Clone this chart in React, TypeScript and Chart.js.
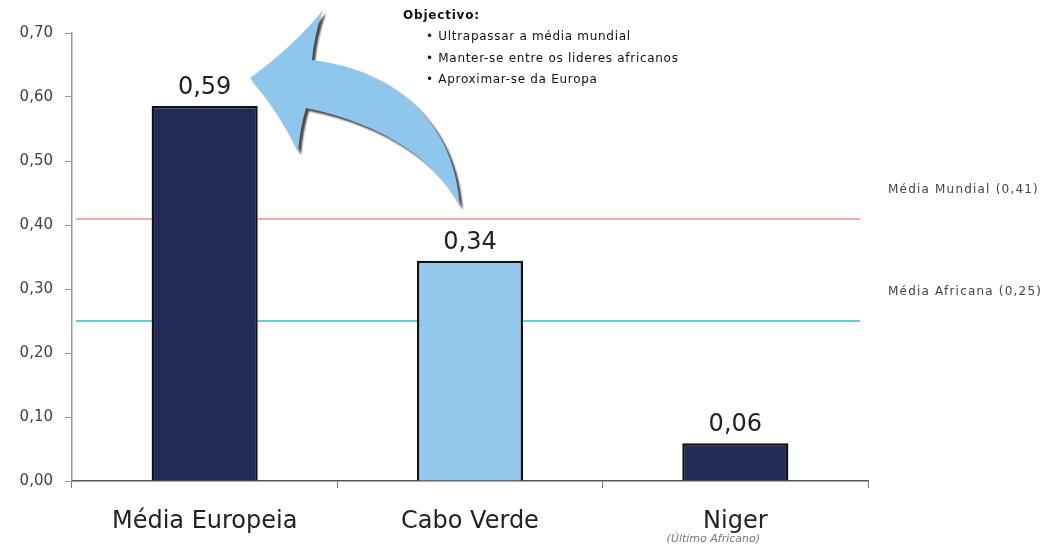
import React, { useEffect, useRef } from "react";
import { Chart, registerables } from "chart.js";

Chart.register(...registerables);

const categories = ["Média Europeia", "Cabo Verde", "Niger"];
const values = [0.586, 0.344, 0.059];
const barColors = ["#232a57", "#93c7ec", "#232a57"];
const subtitles = ["", "", "(Último Africano)"];
const referenceValues = [0.41, 0.25];
const referenceLabels = ["Média Mundial (0,41)", "Média Africana (0,25)"];
const referenceColors = ["#f4aca4", "#66cdd7"];
const objectiveTitle = "Objectivo:";
const objectiveItems = [
  "Ultrapassar a média mundial",
  "Manter-se entre os lideres africanos",
  "Aproximar-se da Europa",
];
const fmt = (v: number) => v.toFixed(2).replace(".", ",");

const overlay = {
  id: "overlay",
  beforeDatasetsDraw(chart: any) {
    const ctx = chart.ctx;
    const y = chart.scales.y;
    const area = chart.chartArea;
    ctx.save();
    referenceValues.forEach((v, i) => {
      const py = Math.round(y.getPixelForValue(v));
      ctx.strokeStyle = referenceColors[i];
      ctx.lineWidth = 2;
      ctx.beginPath();
      ctx.moveTo(area.left + 4, py);
      ctx.lineTo(area.right - 8, py);
      ctx.stroke();
      ctx.fillStyle = "#444";
      ctx.font = "12px 'DejaVu Sans'";
      (ctx as any).letterSpacing = "1.2px";
      ctx.textAlign = "left";
      ctx.textBaseline = "middle";
      ctx.fillText(referenceLabels[i], area.right + 20, py - 29);
      (ctx as any).letterSpacing = "0px";
    });
    ctx.restore();
  },
  afterDatasetsDraw(chart: any) {
    const ctx = chart.ctx;
    const meta = chart.getDatasetMeta(0);
    ctx.save();
    // value labels
    ctx.fillStyle = "#222";
    ctx.font = "24px 'DejaVu Sans'";
    ctx.textAlign = "center";
    ctx.textBaseline = "alphabetic";
    meta.data.forEach((bar: any, i: number) => {
      ctx.fillText(fmt(values[i]), bar.x, bar.y - 12);
    });
    // subtitles under categories
    const x = chart.scales.x;
    ctx.font = "italic 11px 'DejaVu Sans'";
    ctx.fillStyle = "#777";
    subtitles.forEach((s, i) => {
      if (!s) return;
      ctx.fillText(s, x.getPixelForValue(i) - 22, 542);
    });
    // arrow
    ctx.shadowColor = "rgba(30,30,30,0.8)";
    ctx.shadowBlur = 2;
    ctx.shadowOffsetX = 3;
    ctx.shadowOffsetY = 3;
    ctx.fillStyle = "#8fc6ec";
    ctx.beginPath();
    ctx.moveTo(250, 78);
    ctx.quadraticCurveTo(295, 45, 323, 10);
    ctx.quadraticCurveTo(314, 35, 312, 60);
    ctx.bezierCurveTo(398, 70, 455, 125, 460, 207);
    ctx.bezierCurveTo(438, 162, 385, 124, 306, 108);
    ctx.quadraticCurveTo(300, 128, 298, 152);
    ctx.quadraticCurveTo(278, 110, 250, 78);
    ctx.closePath();
    ctx.fill();
    ctx.shadowColor = "transparent";
    // objective text
    ctx.textAlign = "left";
    ctx.textBaseline = "middle";
    ctx.fillStyle = "#111";
    ctx.font = "bold 12px 'DejaVu Sans'";
    (ctx as any).letterSpacing = "0.8px";
    ctx.fillText(objectiveTitle, 403, 16);
    ctx.font = "12px 'DejaVu Sans'";
    (ctx as any).letterSpacing = "0.7px";
    objectiveItems.forEach((t, i) => {
      ctx.fillText("• " + t, 426, 37 + i * 21.5);
    });
    (ctx as any).letterSpacing = "0px";
    ctx.restore();
  },
};

export default function App() {
  const ref = useRef<HTMLCanvasElement>(null);
  useEffect(() => {
    if (!ref.current) return;
    const chart = new Chart(ref.current, {
      type: "bar",
      data: {
        labels: categories,
        datasets: [
          {
            data: values,
            backgroundColor: barColors,
            borderColor: "#111",
            borderWidth: 2.5,
            borderSkipped: "bottom",
            barPercentage: 0.4,
            categoryPercentage: 1,
          },
        ],
      },
      options: {
        responsive: false,
        animation: false,
        layout: { padding: { left: 0, right: 196, top: 33, bottom: 0 } },
        plugins: { legend: { display: false }, tooltip: { enabled: false } },
        scales: {
          x: {
            offset: true,
            grid: {
              offset: true,
              drawOnChartArea: false,
              drawTicks: true,
              tickLength: 7,
              color: "#777",
            },
            border: { color: "#555", width: 1.5 },
            ticks: {
              padding: 19,
              color: "#222",
              font: { family: "'DejaVu Sans'", size: 24 },
            },
            afterFit: (s: any) => {
              s.height = 65;
            },
          },
          y: {
            min: 0,
            max: 0.7,
            grid: {
              drawOnChartArea: false,
              tickLength: 7,
              color: "#999",
            },
            border: { color: "#999", width: 1.5 },
            ticks: {
              stepSize: 0.1,
              padding: 12,
              color: "#444",
              font: { family: "'DejaVu Sans'", size: 15 },
              callback: (v: any) => fmt(Number(v)),
            },
            afterFit: (s: any) => {
              s.width = 72;
            },
          },
        },
      },
      plugins: [overlay],
    });
    return () => chart.destroy();
  }, []);
  return (
    <canvas
      ref={ref}
      width={1064}
      height={546}
      style={{ position: "absolute", left: 0, top: 0 }}
    />
  );
}
